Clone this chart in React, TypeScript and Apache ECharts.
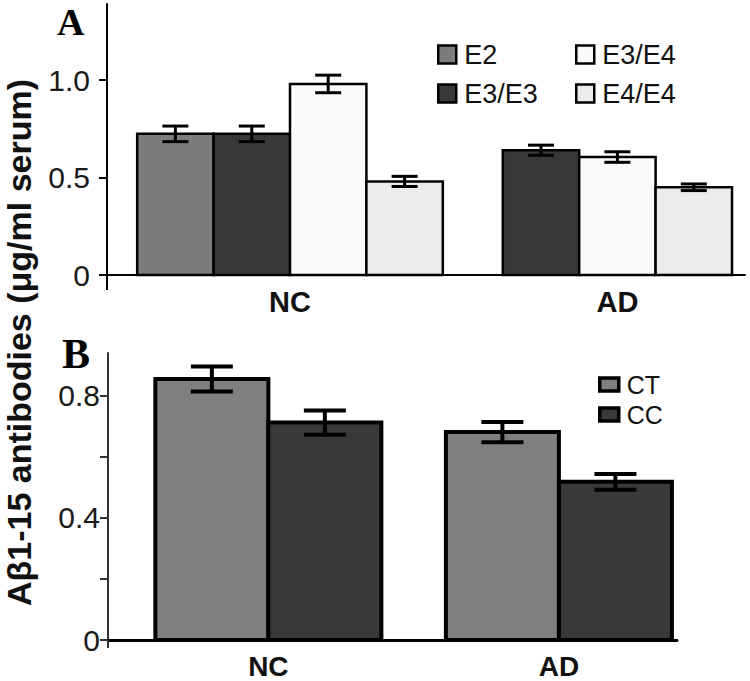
import React, { useEffect, useRef } from 'react';
import * as echarts from 'echarts';

// ---------- Data ----------
const groupsA = ['NC', 'AD'];
const genotypesA = ['E2', 'E3/E3', 'E3/E4', 'E4/E4'];
const meanE2 = [0.724, null];
const errE2 = [0.04, null];
const meanE3E3 = [0.724, 0.64];
const errE3E3 = [0.04, 0.026];
const meanE3E4 = [0.98, 0.605];
const errE3E4 = [0.045, 0.027];
const meanE4E4 = [0.48, 0.45];
const errE4E4 = [0.026, 0.017];

const groupsB = ['NC', 'AD'];
const genotypesB = ['CT', 'CC'];
const meanCT = [0.855, 0.681];
const errCT = [0.041, 0.033];
const meanCC = [0.712, 0.518];
const errCC = [0.04, 0.026];

const ticksA = [0, 0.5, 1.0];
const labelsA = [0, 0.5, 1.0];
const ticksB = [0, 0.2, 0.4, 0.6, 0.8];
const labelsB = [0, 0.4, 0.8];

const yTitle = 'A\u03b21-15 antibodies (\u03bcg/ml serum)';

// ---------- Layout / style ----------
const colorsA = ['#7c7c7c', '#383838', '#fafafa', '#ececec'];
const colorsB = ['#7f7f7f', '#393939'];
const centersA = [2.395, 6.68];
const xMaxA = 8.35;
const centersB = [1.419, 3.99];
const xMaxB = 5.035;

const SANS = '"Liberation Sans", Arial, sans-serif';
const SERIF = '"Liberation Serif", "Times New Roman", serif';

type Num = number | null;

function makeRender(
  means: Num[][],
  sIdx: number,
  centers: number[],
  color: string,
  lw: number,
  ew: number,
  capHalf: number
) {
  return (params: any, api: any) => {
    const g = params.dataIndex;
    const v = api.value(1);
    const e = api.value(2);
    if (v == null || isNaN(v)) return null;
    let slot = 0;
    let n = 0;
    for (let s = 0; s < means.length; s++) {
      if (means[s][g] != null) {
        if (s < sIdx) slot++;
        n++;
      }
    }
    const xc = centers[g] + slot - (n - 1) / 2;
    const top = api.coord([xc, v]);
    const base = api.coord([xc, 0]);
    const w = api.size([1, 0])[0];
    const eTop = api.coord([xc, v + e])[1];
    const eBot = api.coord([xc, v - e])[1];
    const cx = top[0];
    return {
      type: 'group',
      children: [
        {
          type: 'rect',
          shape: { x: cx - w / 2, y: top[1], width: w, height: base[1] - top[1] },
          style: { fill: color, stroke: '#000', lineWidth: lw },
        },
        {
          type: 'line',
          shape: { x1: cx, y1: eTop, x2: cx, y2: eBot },
          style: { stroke: '#000', lineWidth: ew },
        },
        {
          type: 'line',
          shape: { x1: cx - capHalf, y1: eTop, x2: cx + capHalf, y2: eTop },
          style: { stroke: '#000', lineWidth: ew },
        },
        {
          type: 'line',
          shape: { x1: cx - capHalf, y1: eBot, x2: cx + capHalf, y2: eBot },
          style: { stroke: '#000', lineWidth: ew },
        },
      ],
    };
  };
}

function fmt(v: number) {
  return v === 0 ? '0' : v.toFixed(1);
}

function nearestLabel(centers: number[], names: string[]) {
  return (v: number) => {
    let best = 0;
    for (let i = 1; i < centers.length; i++) {
      if (Math.abs(centers[i] - v) < Math.abs(centers[best] - v)) best = i;
    }
    return names[best];
  };
}

export default function App() {
  const ref = useRef<HTMLDivElement>(null);

  useEffect(() => {
    if (!ref.current) return;
    const chart = echarts.init(ref.current, undefined, { renderer: 'svg' });

    const meansA: Num[][] = [meanE2, meanE3E3, meanE3E4, meanE4E4];
    const errsA: Num[][] = [errE2, errE3E3, errE3E4, errE4E4];
    const meansB: Num[][] = [meanCT, meanCC];
    const errsB: Num[][] = [errCT, errCC];

    const seriesA = genotypesA.map((name, s) => ({
      type: 'custom',
      name,
      xAxisIndex: 0,
      yAxisIndex: 0,
      itemStyle: { color: colorsA[s] },
      encode: { x: 0, y: 1 },
      data: groupsA.map((_, g) =>
        meansA[s][g] == null ? [g, '-', '-'] : [g, meansA[s][g], errsA[s][g]]
      ),
      renderItem: makeRender(meansA, s, centersA, colorsA[s], 2.5, 3, 13),
    }));

    const seriesB = genotypesB.map((name, s) => ({
      type: 'custom',
      name,
      xAxisIndex: 1,
      yAxisIndex: 1,
      itemStyle: { color: colorsB[s] },
      encode: { x: 0, y: 1 },
      data: groupsB.map((_, g) => [g, meansB[s][g], errsB[s][g]]),
      renderItem: makeRender(meansB, s, centersB, colorsB[s], 4, 4, 21),
    }));

    const legendBase = {
      orient: 'vertical',
      icon: 'rect',
      selectedMode: false,
      itemStyle: { borderColor: '#000', borderWidth: 2.5 },
    };

    chart.setOption({
      animation: false,
      backgroundColor: '#ffffff',
      grid: [
        { left: 107, right: 5, top: 4, height: 271 },
        { left: 108, right: 73, top: 353, height: 287 },
      ],
      xAxis: [
        {
          type: 'value',
          gridIndex: 0,
          min: 0,
          max: xMaxA,
          splitLine: { show: false },
          axisLine: { show: true, lineStyle: { color: '#000', width: 2 } },
          axisTick: { show: true, customValues: [0], length: 15, lineStyle: { color: '#000', width: 2 } },
          axisLabel: {
            customValues: centersA,
            formatter: nearestLabel(centersA, groupsA),
            fontSize: 29,
            fontWeight: 'bold',
            fontFamily: SANS,
            color: '#111',
            margin: 12,
          },
        },
        {
          type: 'value',
          gridIndex: 1,
          min: 0,
          max: xMaxB,
          splitLine: { show: false },
          axisLine: { show: true, lineStyle: { color: '#000', width: 3 } },
          axisTick: { show: true, customValues: [0], length: 8, lineStyle: { color: '#333', width: 2 } },
          axisLabel: {
            customValues: centersB,
            formatter: nearestLabel(centersB, groupsB),
            fontSize: 28,
            fontWeight: 'bold',
            fontFamily: SANS,
            color: '#111',
            margin: 12,
          },
        },
      ],
      yAxis: [
        {
          type: 'value',
          gridIndex: 0,
          min: 0,
          max: 1.39,
          splitLine: { show: false },
          axisLine: { show: true, lineStyle: { color: '#000', width: 2 } },
          axisTick: { show: true, customValues: ticksA, length: 8, lineStyle: { color: '#000', width: 2 } },
          axisLabel: {
            customValues: labelsA,
            formatter: fmt,
            fontSize: 30,
            fontFamily: SANS,
            color: '#1a1a1a',
            margin: 17,
          },
        },
        {
          type: 'value',
          gridIndex: 1,
          min: 0,
          max: 0.94,
          splitLine: { show: false },
          axisLine: { show: true, lineStyle: { color: '#333', width: 2 } },
          axisTick: { show: true, customValues: ticksB, length: 8, lineStyle: { color: '#333', width: 2 } },
          axisLabel: {
            customValues: labelsB,
            formatter: fmt,
            fontSize: 30,
            fontFamily: SANS,
            color: '#1a1a1a',
            margin: 8,
          },
        },
      ],
      legend: [
        {
          ...legendBase,
          data: [genotypesA[0], genotypesA[1]],
          left: 432,
          top: 36,
          itemWidth: 18,
          itemHeight: 18,
          itemGap: 12,
          textStyle: { fontSize: 27, lineHeight: 26, fontFamily: SANS, color: '#111', padding: [0, 0, 0, 3] },
        },
        {
          ...legendBase,
          data: [genotypesA[2], genotypesA[3]],
          left: 570,
          top: 36,
          itemWidth: 18,
          itemHeight: 18,
          itemGap: 12,
          textStyle: { fontSize: 27, lineHeight: 26, fontFamily: SANS, color: '#111', padding: [0, 0, 0, 3] },
        },
        {
          ...legendBase,
          data: [genotypesB[0], genotypesB[1]],
          left: 593,
          top: 367,
          itemWidth: 19,
          itemHeight: 13,
          itemGap: 5,
          itemStyle: { borderColor: '#000', borderWidth: 3.5 },
          textStyle: { fontSize: 25, lineHeight: 24, fontFamily: SANS, color: '#111', padding: [0, 0, 0, 3] },
        },
      ],
      graphic: [
        {
          type: 'text',
          x: 18.5,
          y: 342.5,
          rotation: Math.PI / 2,
          style: {
            text: yTitle,
            fontSize: 34,
            fontWeight: 'bold',
            fontFamily: SANS,
            fill: '#111',
            align: 'center',
            verticalAlign: 'middle',
          },
        },
        {
          type: 'text',
          x: 57,
          y: 21.5,
          style: {
            text: 'A',
            fontSize: 38,
            fontWeight: 'bold',
            fontFamily: SERIF,
            fill: '#000',
            align: 'left',
            verticalAlign: 'middle',
          },
        },
        {
          type: 'text',
          x: 62,
          y: 353.5,
          style: {
            text: 'B',
            fontSize: 42,
            fontWeight: 'bold',
            fontFamily: SERIF,
            fill: '#000',
            align: 'left',
            verticalAlign: 'middle',
          },
        },
      ],
      series: [...seriesA, ...seriesB],
    });

    return () => chart.dispose();
  }, []);

  return (
    <div
      ref={ref}
      style={{ position: 'fixed', left: 0, top: 0, width: 750, height: 681 }}
    />
  );
}
